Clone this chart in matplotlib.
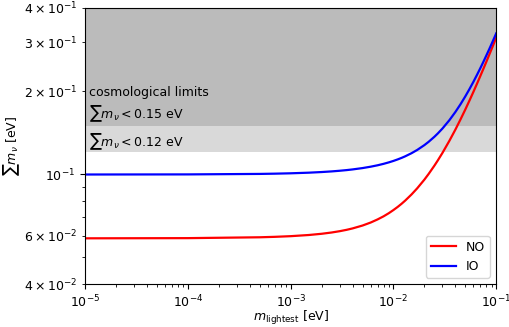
import numpy as np
import matplotlib
matplotlib.use("Agg")
import matplotlib.pyplot as plt

# --- Data ---

m_lightest = [1e-5, 1e-4, 5e-4, 7e-4, 1e-3, 1.5e-3, 2e-3, 2.5e-3, 3e-3, 3.5e-3,
              4e-3, 5e-3, 6e-3, 7e-3, 8e-3, 9e-3, 1e-2, 1.1e-2, 1.2e-2, 1.3e-2,
              1.5e-2, 1.7e-2, 2e-2, 2.2e-2, 2.5e-2, 2.7e-2, 3e-2, 3.5e-2, 4e-2,
              4.5e-2, 5e-2, 5.5e-2, 6e-2, 6.5e-2, 7e-2, 7.5e-2, 8e-2, 8.5e-2,
              9e-2, 9.5e-2, 1e-1]

sum_no = [0.05861, 0.05870, 0.05912, 0.05934, 0.05967, 0.06025, 0.06087, 0.06152,
          0.0622, 0.06291, 0.06365, 0.0652, 0.06685, 0.0686, 0.07038, 0.07225,
          0.0742, 0.07616, 0.07818, 0.08025, 0.0845, 0.08886, 0.0956, 0.10025,
          0.10734, 0.11216, 0.1195, 0.13208, 0.1449, 0.15808, 0.1714, 0.185,
          0.1987, 0.21257, 0.2266, 0.24063, 0.2548, 0.26905, 0.28337, 0.29775,
          0.3122]

sum_io = [0.09975, 0.09984, 0.10024, 0.10045, 0.10076, 0.10128, 0.10182, 0.10236,
          0.10292, 0.10348, 0.10406, 0.10524, 0.10646, 0.10771, 0.10901, 0.11035,
          0.11172, 0.11314, 0.11458, 0.11607, 0.11915, 0.12237, 0.12746, 0.13101,
          0.13657, 0.14042, 0.14639, 0.15685, 0.16786, 0.17934, 0.19124, 0.20349,
          0.21604, 0.22885, 0.24189, 0.25513, 0.26854, 0.2821, 0.29578, 0.30959,
          0.32349]

limit_strong = 0.12
limit_weak = 0.15
x_range = (1e-5, 1e-1)
y_range = (4e-2, 4e-1)

# --- Plot ---

plt.rcParams['font.size'] = 9

fig, ax = plt.subplots(figsize=(5.1, 3.27), dpi=100)
fig.subplots_adjust(left=0.167, right=0.973, top=0.976, bottom=0.131)

ax.axhspan(limit_weak, y_range[1], color='#bbbbbb', lw=0, zorder=0)
ax.axhspan(limit_strong, limit_weak, color='#d9d9d9', lw=0, zorder=0)

ax.plot(m_lightest, sum_no, color='red', lw=1.6, label='NO')
ax.plot(m_lightest, sum_io, color='blue', lw=1.6, label='IO')

ax.set_xscale('log')
ax.set_yscale('log')
ax.set_xlim(*x_range)
ax.set_ylim(*y_range)

ax.text(1.08e-5, 0.197, 'cosmological limits', va='center', ha='left')
ax.text(1.08e-5, 0.165, r'$\sum m_\nu < 0.15$ eV', va='center', ha='left')
ax.text(1.08e-5, 0.131, r'$\sum m_\nu < 0.12$ eV', va='center', ha='left')

ax.set_xlabel(r'$m_{\rm lightest}$ [eV]', labelpad=-1)
ax.set_ylabel(r'$\sum m_\nu$ [eV]', labelpad=2)
ax.legend(loc='lower right')

fig.savefig('out.png')
